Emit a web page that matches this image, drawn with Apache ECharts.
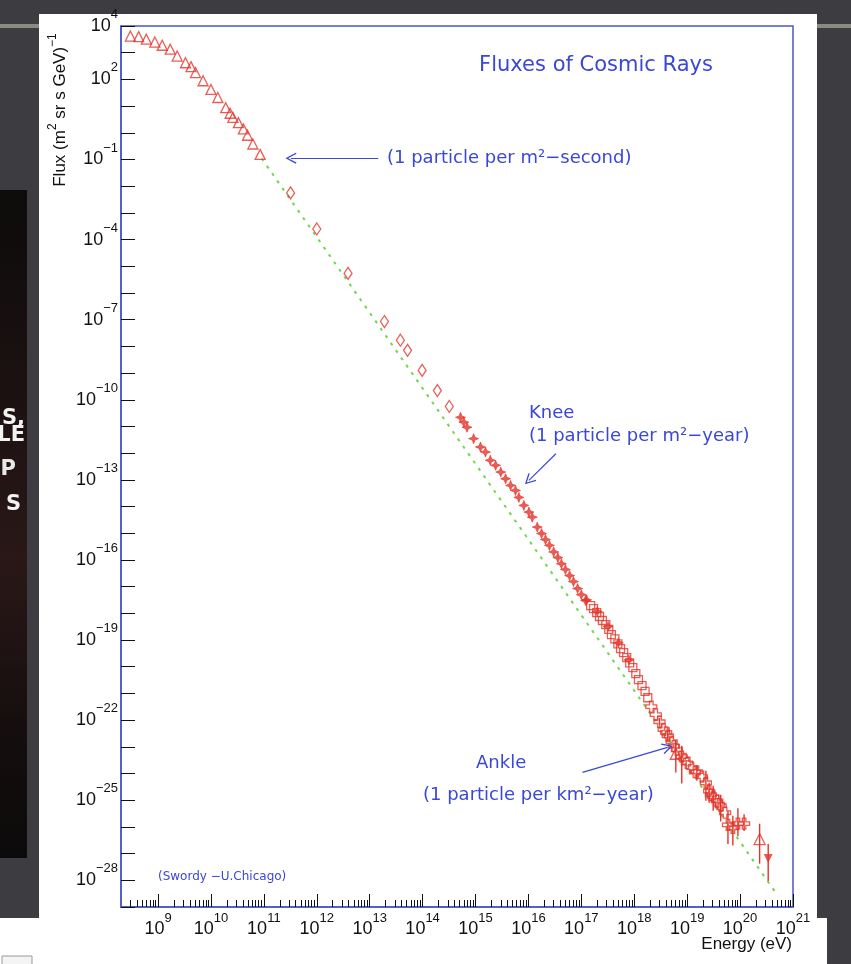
<!DOCTYPE html>
<html>
<head>
<meta charset="utf-8">
<script src="https://cdn.jsdelivr.net/npm/echarts@6/dist/echarts.min.js"></script>
<style>
  html, body { margin: 0; padding: 0; background: #3d3d41; }
  #chart { width: 851px; height: 964px; }
</style>
</head>
<body>
<div id="chart"></div>
<script>
// Cosmic-ray flux spectrum. Energies in eV, fluxes in (m^2 sr s GeV)^-1.

// Low-energy direct measurements (open triangles)
const triEnergy = [3.0e8, 4.3e8, 6.0e8, 8.7e8, 1.2e9, 1.7e9, 2.3e9, 3.3e9, 4.2e9, 5.1e9, 7.1e9,
  1.0e10, 1.35e10, 1.9e10, 2.3e10, 2.6e10, 3.3e10, 4.1e10, 4.9e10, 6.2e10, 8.5e10];
const triFlux = [4.2e3, 4.0e3, 3.2e3, 2.5e3, 1.9e3, 1.35e3, 7.5e2, 4.2e2, 3.0e2, 1.8e2, 89,
  42, 21, 8.7, 5.4, 3.8, 2.4, 1.4, 0.81, 0.38, 0.155];

// Balloon / satellite points (open diamonds)
const diaEnergy = [3.2e11, 1.0e12, 3.9e12, 1.9e13, 3.8e13, 5.2e13, 9.8e13, 1.9e14, 3.2e14];
const diaFlux = [5.6e-3, 2.5e-4, 5.4e-6, 8.5e-8, 1.7e-8, 7.1e-9, 1.26e-9, 2.2e-10, 5.6e-11];

// Air-shower arrays around the knee (filled stars)
const starEnergy = [5.2e14, 6.0e14, 6.9e14, 9.2e14, 1.24e15, 1.54e15, 1.9e15, 2.4e15, 3.0e15,
  3.7e15, 4.6e15, 5.7e15, 6.6e15, 8.2e15, 1.02e16, 1.18e16, 1.47e16, 1.77e16, 2.1e16, 2.5e16,
  3.0e16, 3.6e16, 4.2e16, 5.0e16, 6.0e16, 7.1e16, 8.5e16, 1.0e17, 1.2e17,
  1.26e17, 2.0e17, 3.2e17, 5.0e17, 7.9e17];
const starFlux = [2.2e-11, 1.45e-11, 9.3e-12, 3.5e-12, 1.7e-12, 1.1e-12, 5.4e-13, 3.5e-13, 1.95e-13,
  1.1e-13, 6.2e-14, 4.0e-14, 2.2e-14, 1.1e-14, 6.2e-15, 4.0e-15, 1.7e-15, 9.8e-16, 5.8e-16, 3.5e-16,
  2.0e-16, 1.23e-16, 7.2e-17, 4.4e-17, 2.6e-17, 1.55e-17, 8.5e-18, 5.0e-18, 3.0e-18,
  3.2e-18, 1.17e-18, 3.2e-19, 7.9e-20, 1.8e-20];

// Second knee region (open squares)
const sqEnergy = [1.5e17, 1.7e17, 1.95e17, 2.2e17, 2.5e17, 2.9e17, 3.3e17, 3.7e17, 4.3e17, 4.9e17,
  5.5e17, 6.3e17, 7.2e17, 8.2e17, 9.4e17, 1.07e18, 1.2e18, 1.4e18, 1.6e18, 1.8e18];
const sqFlux = [1.95e-18, 1.5e-18, 1.07e-18, 7.6e-19, 5.4e-19, 3.8e-19, 2.5e-19, 1.6e-19, 1.1e-19, 7.2e-20,
  4.8e-20, 3.4e-20, 2.2e-20, 1.4e-20, 9.3e-21, 5.5e-21, 3.3e-21, 1.95e-21, 1.2e-21, 6.9e-22];

// Ultra-high-energy points around the ankle (open crosses)
const crossEnergy = [2.1e18, 2.55e18, 3.0e18, 3.6e18, 4.3e18, 5.1e18, 6.4e18, 7.9e18, 9.9e18, 1.23e19,
  1.53e19, 1.9e19, 2.26e19, 2.6e19, 3.1e19, 3.7e19, 4.3e19, 5.2e19, 5.9e19, 7.3e19, 9.1e19, 1.19e20,
  4.0e18, 5.6e18, 8.9e18, 1.4e19, 2.8e19, 4.0e19];
const crossFlux = [3.2e-22, 1.6e-22, 8.7e-23, 4.4e-23, 2.6e-23, 1.55e-23, 7.8e-24, 4.3e-24, 2.5e-24, 1.66e-24,
  1.17e-24, 7.6e-25, 4.5e-25, 2.2e-25, 1.35e-25, 9.5e-26, 6.2e-26, 3.4e-26, 1.2e-26, 9.3e-27, 1.32e-26, 1.32e-26,
  3.5e-23, 1.05e-23, 3.5e-24, 1.12e-24, 1.6e-25, 7.1e-26];

// Highest-energy events
const hiTriEnergy = [6.1e18, 2.34e20];
const hiTriFlux = [5.5e-24, 3.5e-27];
const downEnergy = [3.4e20];
const downFlux = [6.6e-28];

// Vertical error bars: energy, lower flux, upper flux
const errEnergy = [3.0e18, 4.3e18, 6.1e18, 7.9e18, 1.53e19, 2.26e19, 2.6e19, 3.1e19, 4.3e19, 5.9e19,
  7.3e19, 9.1e19, 1.19e20, 2.34e20, 3.4e20];
const errLow = [6.2e-23, 1.7e-23, 1.1e-24, 4.2e-25, 5.5e-25, 9.5e-26, 8.0e-26, 4.0e-26, 1.6e-26, 2.3e-27,
  2.0e-27, 4.5e-27, 7.0e-27, 4.2e-28, 9.5e-29];
const errHigh = [1.2e-22, 3.9e-23, 1.7e-23, 1.1e-23, 2.0e-24, 1.26e-24, 4.5e-25, 3.5e-25, 1.6e-25, 4.0e-26,
  2.6e-26, 5.0e-26, 3.0e-26, 1.32e-26, 2.3e-27];

// Reference power law (dotted guide)
const guideEnergy = [9.1e10, 5.0e20];
const guideFlux = [0.109, 2.9e-29];

// Annotation arrows: [tail energy, tail flux, head energy, head flux]
const arrowSecond = [1.45e13, 0.112, 3.26e11, 0.112];
const arrowKnee = [3.3e16, 9.5e-13, 1.02e16, 9.5e-14];
const arrowAnkle = [1.05e17, 1.1e-24, 4.26e18, 9.5e-24];

// Axis ticks and labels (powers of ten)
const xRange = [8.3, 21];
const yRange = [-29, 4];
const xLabelExp = [9, 10, 11, 12, 13, 14, 15, 16, 17, 18, 19, 20, 21];
const yLabelExp = [4, 2, -1, -4, -7, -10, -13, -16, -19, -22, -25, -28];

const RED = '#e3342a';
const BLUE = '#3b47d6';
const FRAME = '#4a55c8';
const GREEN = '#72d64c';
const SANS = '"Liberation Sans", Arial, sans-serif';
const ROUND = '"DejaVu Sans", "Noto Sans", sans-serif';

const lg = Math.log10;
const toPts = (E, F) => E.map((e, i) => [lg(e), lg(F[i])]);

// decade ticks on the flux axis, 2..9 sub-ticks on the energy axis
const yTickExp = [];
for (let n = yRange[0]; n <= yRange[1]; n++) yTickExp.push(n);
const xMajorTicks = xLabelExp.slice();
const xMinorTicks = [];
for (let n = 8; n <= 20; n++) {
  for (let k = 2; k <= 9; k++) {
    const v = n + lg(k);
    if (v > xRange[0] + 0.01 && v < xRange[1]) xMinorTicks.push(v);
  }
}

const supLabel = v => {
  const n = Math.round(v);
  return '{b|10}{s|' + (n < 0 ? '\u2212' + (-n) : n) + '}';
};
const labelRich = {
  b: { fontSize: 18, fontFamily: SANS, color: '#111', lineHeight: 18, padding: [9, 0, 0, 0] },
  s: { fontSize: 13, fontFamily: SANS, color: '#111', lineHeight: 13, padding: [0, 0, 14, 0] }
};

const hollow = { color: 'rgba(0,0,0,0)', borderColor: RED, borderWidth: 1.3 };
const crossPath = 'path://M-1.6,-5H1.6V-1.6H5V1.6H1.6V5H-1.6V1.6H-5V-1.6H-1.6Z';
const starPath = 'path://M0,-5L1.4,-1.4L5,0L1.4,1.4L0,5L-1.4,1.4L-5,0L-1.4,-1.4Z';
// open chevron used as arrow head
const chevronPath = 'path://M0,0L6,10L4.8,10.8L0,2.6L-4.8,10.8L-6,10Z';

const arrowLine = a => [{ coord: [lg(a[0]), lg(a[1])] }, { coord: [lg(a[2]), lg(a[3])] }];

const chart = echarts.init(document.getElementById('chart'), null, { renderer: 'canvas' });

const txt = (x, y, text, size, extra) => Object.assign({
  type: 'text', x: x, y: y, z: 20,
  style: Object.assign({ text: text, fill: BLUE, font: size + 'px ' + ROUND, align: 'left', verticalAlign: 'middle' }, extra || {})
});

chart.setOption({
  backgroundColor: '#3d3d41',
  animation: false,
  grid: {
    left: 121, right: 58, top: 26, bottom: 57,
    show: true, borderColor: FRAME, borderWidth: 1.5, backgroundColor: 'transparent'
  },
  xAxis: [{
    type: 'value', position: 'bottom', min: xRange[0], max: xRange[1],
    axisLine: { show: true, onZero: false, lineStyle: { color: FRAME, width: 1.5 } },
    axisTick: { show: true, inside: true, length: 13, customValues: xMajorTicks, lineStyle: { color: '#111', width: 1 } },
    axisLabel: { show: true, customValues: xLabelExp, formatter: supLabel, margin: 9, rich: labelRich },
    splitLine: { show: false }
  }, {
    type: 'value', position: 'bottom', min: xRange[0], max: xRange[1],
    axisLine: { show: false, onZero: false },
    axisTick: { show: true, inside: true, length: 7, customValues: xMinorTicks, lineStyle: { color: '#111', width: 1 } },
    axisLabel: { show: false },
    splitLine: { show: false }
  }],
  yAxis: {
    type: 'value', min: yRange[0], max: yRange[1],
    axisLine: { show: true, onZero: false, lineStyle: { color: FRAME, width: 1.5 } },
    axisTick: { show: true, inside: true, length: 14, customValues: yTickExp, lineStyle: { color: '#111', width: 1 } },
    axisLabel: { show: true, customValues: yLabelExp, formatter: supLabel, margin: 3, padding: [0, 0, 9, 0], rich: labelRich },
    splitLine: { show: false }
  },
  series: [
    {
      name: 'guide', type: 'line', data: toPts(guideEnergy, guideFlux), symbol: 'none', z: 1,
      lineStyle: { color: GREEN, width: 2, type: [3, 6] },
      markLine: {
        silent: true, symbol: ['none', chevronPath], symbolSize: 11, label: { show: false },
        lineStyle: { color: BLUE, width: 1.2, type: 'solid' },
        data: [arrowLine(arrowSecond), arrowLine(arrowKnee), arrowLine(arrowAnkle)]
      }
    },
    {
      name: 'errors', type: 'custom', z: 3, silent: true,
      data: errEnergy.map((e, i) => [lg(e), lg(errLow[i]), lg(errHigh[i])]),
      encode: { x: 0, y: [1, 2] },
      renderItem: (params, api) => {
        const lo = api.coord([api.value(0), api.value(1)]);
        const hi = api.coord([api.value(0), api.value(2)]);
        return { type: 'line', shape: { x1: lo[0], y1: lo[1], x2: hi[0], y2: hi[1] }, style: { stroke: RED, lineWidth: 1.4 } };
      }
    },
    { name: 'triangles', type: 'scatter', data: toPts(triEnergy, triFlux), symbol: 'triangle', symbolSize: 10, itemStyle: hollow, z: 4 },
    { name: 'diamonds', type: 'scatter', data: toPts(diaEnergy, diaFlux), symbol: 'diamond', symbolSize: [8, 12], itemStyle: hollow, z: 4 },
    { name: 'stars', type: 'scatter', data: toPts(starEnergy, starFlux), symbol: starPath, symbolSize: 10, itemStyle: { color: RED, borderColor: RED, borderWidth: 0.8 }, z: 4 },
    { name: 'squares', type: 'scatter', data: toPts(sqEnergy, sqFlux), symbol: 'rect', symbolSize: 8, itemStyle: hollow, z: 4 },
    { name: 'crosses', type: 'scatter', data: toPts(crossEnergy, crossFlux), symbol: crossPath, symbolSize: 11, itemStyle: hollow, z: 4 },
    { name: 'highTriangles', type: 'scatter', data: toPts(hiTriEnergy, hiTriFlux), symbol: 'triangle', symbolSize: 11, itemStyle: hollow, z: 4 },
    { name: 'upperLimit', type: 'scatter', data: toPts(downEnergy, downFlux), symbol: 'triangle', symbolRotate: 180, symbolSize: 9, itemStyle: { color: RED }, z: 4 }
  ],
  graphic: { elements: [
    // slide pieces around the plot
    { type: 'rect', z: -10, shape: { x: 0, y: 24, width: 40, height: 4 }, style: { fill: '#8a8a83' } },
    { type: 'rect', z: -10, shape: { x: 817, y: 24, width: 34, height: 4 }, style: { fill: '#8a8a83' } },
    { type: 'rect', z: -10, shape: { x: 0, y: 190, width: 27, height: 668 },
      style: { fill: { type: 'linear', x: 0, y: 0, x2: 0, y2: 1, colorStops: [
        { offset: 0, color: '#0d0b0b' }, { offset: 0.35, color: '#1e1212' }, { offset: 0.55, color: '#2a1818' },
        { offset: 0.8, color: '#160e0e' }, { offset: 1, color: '#0b0a0a' }] } } },
    { type: 'text', z: -9, x: 25, y: 419, style: { text: 'S,', fill: '#f2f2f2', font: 'bold 21px "DejaVu Sans", sans-serif', align: 'right', verticalAlign: 'middle' } },
    { type: 'text', z: -9, x: 25, y: 436, style: { text: 'LE', fill: '#f2f2f2', font: 'bold 21px "DejaVu Sans", sans-serif', align: 'right', verticalAlign: 'middle' } },
    { type: 'text', z: -9, x: 16, y: 470, style: { text: 'P', fill: '#e8e8e8', font: 'bold 21px "DejaVu Sans", sans-serif', align: 'right', verticalAlign: 'middle' } },
    { type: 'text', z: -9, x: 21, y: 505, style: { text: 'S', fill: '#f2f2f2', font: 'bold 21px "DejaVu Sans", sans-serif', align: 'right', verticalAlign: 'middle' } },
    { type: 'rect', z: -10, shape: { x: 39, y: 14, width: 778, height: 904 }, style: { fill: '#ffffff' } },
    { type: 'rect', z: -10, shape: { x: 0, y: 918, width: 827, height: 46 }, style: { fill: '#ffffff' } },
    { type: 'rect', z: -9, shape: { x: 2, y: 956, width: 30, height: 12 }, style: { fill: '#f4f4f4', stroke: '#9a9a9a', lineWidth: 1 } },

    // titles and notes
    txt(596, 66, 'Fluxes of Cosmic Rays', 21, { align: 'center' }),
    txt(387, 158, '(1 particle per m\u00b2\u2212second)', 18),
    txt(529, 413, 'Knee', 18),
    txt(529, 436, '(1 particle per m\u00b2\u2212year)', 18),
    txt(476, 763, 'Ankle', 18),
    txt(423, 795, '(1 particle per km\u00b2\u2212year)', 18),
    txt(158, 877, '(Swordy \u2212U.Chicago)', 12),
    { type: 'text', z: 20, x: 792, y: 944,
      style: { text: 'Energy (eV)', fill: '#111', font: '17px ' + SANS, align: 'right', verticalAlign: 'middle' } },
    { type: 'text', z: 20, x: 58, y: 110, rotation: Math.PI / 2,
      style: { text: '{a|Flux (m}{s|2}{a| sr s GeV)}{s|\u22121}', align: 'center', verticalAlign: 'middle',
        rich: {
          a: { fontSize: 17, fontFamily: SANS, fill: '#111', lineHeight: 17, padding: [5, 0, 0, 0] },
          s: { fontSize: 12, fontFamily: SANS, fill: '#111', lineHeight: 12, padding: [0, 0, 10, 0] }
        } } }
  ] }
});
</script>
</body>
</html>
